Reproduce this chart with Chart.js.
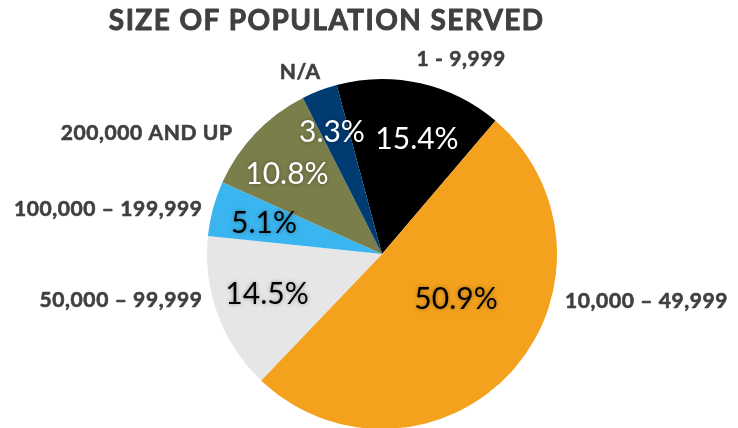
<!DOCTYPE html>
<html>
<head>
<meta charset="utf-8">
<script src="https://cdn.jsdelivr.net/npm/chart.js@4.4.1/dist/chart.umd.min.js"></script>
<style>
  html, body { margin: 0; padding: 0; background: #fff; overflow: hidden; }
  #wrap { position: relative; width: 738px; height: 440px; }
</style>
</head>
<body>
<div id="wrap"><canvas id="pie-chart"></canvas></div>
<script>
const TITLE = 'SIZE OF POPULATION SERVED';
const categories = ['1 - 9,999', '10,000 \u2013 49,999', '50,000 \u2013 99,999', '100,000 \u2013 199,999', '200,000 AND UP', 'N/A'];
const shares = [15.4, 50.9, 14.5, 5.1, 10.8, 3.3];
const sliceColors = ['#000000', '#F4A11E', '#E6E6E6', '#3BB5EF', '#7A7E4B', '#003B71'];
const valueColors = ['#FFFFFF', '#000000', '#000000', '#000000', '#FFFFFF', '#FFFFFF'];

// where each text sits, in units of the pie radius from its centre
const valueSpots = [[0.20, -0.657], [0.423, 0.257], [-0.657, 0.229], [-0.674, -0.177], [-0.543, -0.457], [-0.286, -0.697]];
// [x, y, which part of the text sits there]
const nameSpots = [[0.451, -1.111, 'center'], [1.046, 0.269, 'left'], [-1.029, 0.266, 'right'], [-1.029, -0.254, 'right'], [-0.857, -0.691, 'right'], [-0.469, -1.037, 'center']];

// draws text with letter spacing, anchored without the trailing gap
function spacedText(ctx, text, x, y, align, spacing, weight) {
    ctx.letterSpacing = spacing + 'px';
    const w = ctx.measureText(text).width - spacing;
    let left = x;
    if (align === 'center') left = x - w / 2;
    if (align === 'right') left = x - w;
    ctx.textAlign = 'left';
    ctx.fillText(text, left, y);
    if (weight) {
        // a thin outline makes the bold a little heavier
        ctx.lineWidth = weight;
        ctx.strokeStyle = ctx.fillStyle;
        ctx.lineJoin = 'round';
        ctx.strokeText(text, left, y);
    }
}

const labelPlugin = {
    id: 'sliceLabels',
    afterDatasetsDraw(chart) {
        const ctx = chart.ctx;
        const arcs = chart.getDatasetMeta(0).data;
        if (!arcs.length) return;
        const cx = arcs[0].x, cy = arcs[0].y, r = arcs[0].outerRadius;

        ctx.save();
        ctx.textBaseline = 'middle';

        // percentages inside the slices
        ctx.font = '30px Lato';
        ctx.shadowColor = 'rgba(0, 0, 0, 0.35)';
        ctx.shadowBlur = 4;
        shares.forEach((v, i) => {
            ctx.fillStyle = valueColors[i];
            spacedText(ctx, v.toFixed(1) + '%', cx + valueSpots[i][0] * r, cy + valueSpots[i][1] * r, 'center', 0);
        });

        // category names outside
        ctx.shadowBlur = 0;
        ctx.shadowColor = 'transparent';
        ctx.font = 'bold 21px Lato';
        ctx.fillStyle = '#404040';
        categories.forEach((name, i) => {
            const s = nameSpots[i];
            spacedText(ctx, name, cx + s[0] * r, cy + s[1] * r, s[2], 0.6, 0.6);
        });

        // title
        ctx.font = 'bold 28px Lato';
        ctx.fillStyle = '#404040';
        spacedText(ctx, TITLE, 326, 21, 'center', 1.4, 0.9);
        ctx.restore();
    }
};

new Chart(document.getElementById('pie-chart').getContext('2d'), {
    type: 'pie',
    data: {
        labels: categories,
        datasets: [{
            data: shares,
            backgroundColor: sliceColors,
            borderWidth: 0
        }]
    },
    options: {
        responsive: true,
        maintainAspectRatio: false,
        animation: false,
        rotation: -15,
        layout: {
            padding: { top: 79, bottom: 11, left: 207, right: 181 }
        },
        plugins: {
            legend: { display: false },
            tooltip: { enabled: false },
            title: { display: false }
        }
    },
    plugins: [labelPlugin]
});
</script>
</body>
</html>
